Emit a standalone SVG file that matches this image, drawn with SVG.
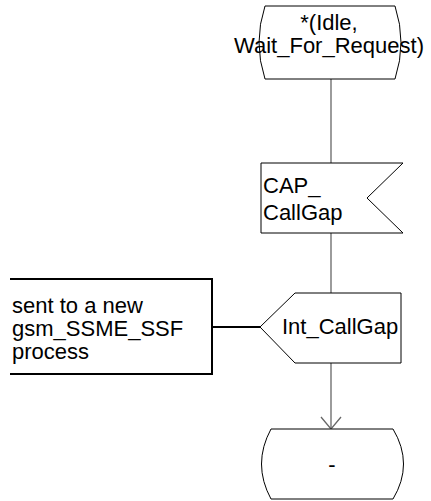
<svg xmlns="http://www.w3.org/2000/svg" width="431" height="501" viewBox="0 0 431 501">
<style>
.s{fill:#fff;stroke:#000;stroke-width:1}
.f{fill:none;stroke:#666;stroke-width:1.3}
.c{fill:none;stroke:#000;stroke-width:2}
text{font-family:"Liberation Sans",Arial,sans-serif;font-size:22px;fill:#000}
</style>
<rect width="431" height="501" fill="#fff"/>
<g id="connectors">
<line class="f" x1="331" y1="79" x2="331" y2="163"/>
<line class="f" x1="331" y1="233" x2="331" y2="293"/>
<line class="f" x1="331" y1="363" x2="331" y2="429"/>
<polyline class="f" points="321,417 331,429 341,417"/>
<line class="c" x1="212" y1="327" x2="260" y2="327"/>
</g>
<g id="start_state">
<path class="s" d="M265,6 H395 Q407,42.5 395,79 H265 Q253,42.5 265,6 Z"/>
<text x="329" y="30" text-anchor="middle">*(Idle,</text>
<text x="329" y="53" text-anchor="middle">Wait_For_Request)</text>
</g>
<g id="input_cap_callgap">
<polygon class="s" points="261,163 403,163 367,198 403,233 261,233"/>
<text x="263" y="193">CAP_</text>
<text x="263" y="220">CallGap</text>
</g>
<g id="output_int_callgap">
<polygon class="s" points="260,327 295,293 401,293 401,363 295,363"/>
<text x="282" y="334">Int_CallGap</text>
</g>
<g id="comment">
<path class="c" d="M10,279 H212 V374 H10"/>
<text x="12" y="313">sent to a new</text>
<text x="12" y="336">gsm_SSME_SSF</text>
<text x="12" y="359">process</text>
</g>
<g id="end_state">
<path class="s" d="M271,429 H393 Q414,464 393,499 H271 Q252,464 271,429 Z"/>
<text x="332" y="472" text-anchor="middle">-</text>
</g>
</svg>
